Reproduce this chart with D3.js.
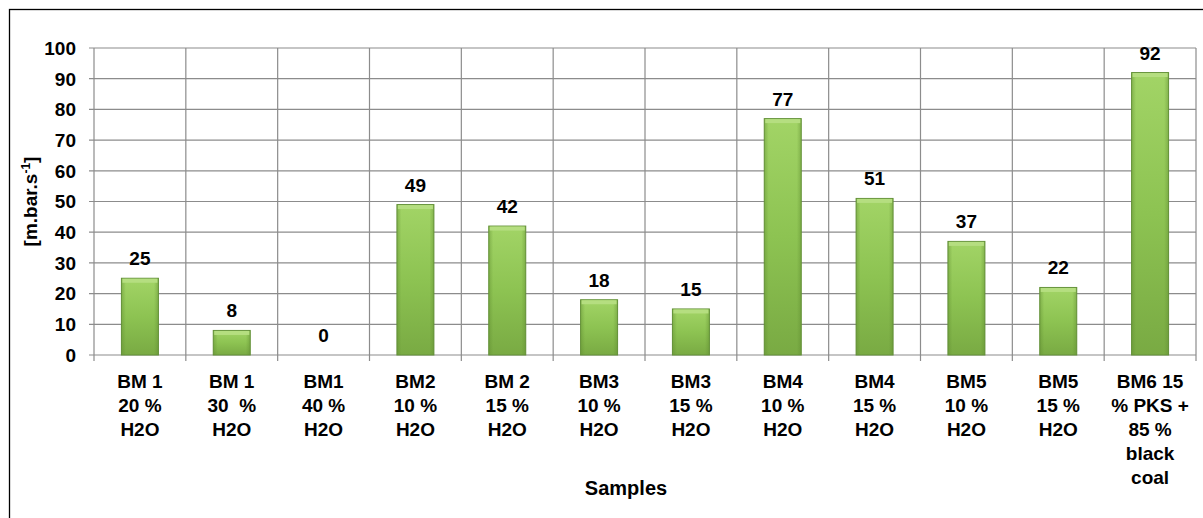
<!DOCTYPE html>
<html>
<head>
<meta charset="utf-8">
<script src="https://cdn.jsdelivr.net/npm/d3@7"></script>
<style>
  body { margin: 0; background: #fff; }
  svg text { font-family: Arial, "Liberation Sans", sans-serif; font-weight: bold; fill: #000; white-space: pre; }
</style>
</head>
<body>
<div id="chart"></div>
<script>
// sample labels, one line per entry
var samples = [
  ["BM 1", "20 %", "H2O"],
  ["BM 1", "30  %", "H2O"],
  ["BM1", "40 %", "H2O"],
  ["BM2", "10 %", "H2O"],
  ["BM 2", "15 %", "H2O"],
  ["BM3", "10 %", "H2O"],
  ["BM3", "15 %", "H2O"],
  ["BM4", "10 %", "H2O"],
  ["BM4", "15 %", "H2O"],
  ["BM5", "10 %", "H2O"],
  ["BM5", "15 %", "H2O"],
  ["BM6 15", "% PKS +", "85 %", "black", "coal"]
]
var values = [25, 8, 0, 49, 42, 18, 15, 77, 51, 37, 22, 92]
var yTicks = [0, 10, 20, 30, 40, 50, 60, 70, 80, 90, 100]

var width = 1203, height = 518
var margin = {left: 94, right: 7, top: 48, bottom: 163}

var svg = d3.select('#chart').append('svg')
    .attr('width', width)
    .attr('height', height)

// outer frame (right / bottom run off the picture)
svg.append('rect')
    .attr('x', 9.5).attr('y', 9.5)
    .attr('width', 1220).attr('height', 530)
    .attr('fill', 'none')
    .attr('stroke', '#000')
    .attr('stroke-width', 1.3)

var defs = svg.append('defs')
var grad = defs.append('linearGradient')
    .attr('id', 'barGrad')
    .attr('x1', 0).attr('y1', 0).attr('x2', 0).attr('y2', 1)
grad.append('stop').attr('offset', '0%').attr('stop-color', '#a2d466')
grad.append('stop').attr('offset', '50%').attr('stop-color', '#8dc352')
grad.append('stop').attr('offset', '100%').attr('stop-color', '#79aa43')

var side = defs.append('linearGradient')
    .attr('id', 'sideGrad')
    .attr('x1', 0).attr('y1', 0).attr('x2', 1).attr('y2', 0)
side.append('stop').attr('offset', '0%').attr('stop-color', '#5f8c30').attr('stop-opacity', 0.45)
side.append('stop').attr('offset', '12%').attr('stop-color', '#5f8c30').attr('stop-opacity', 0)
side.append('stop').attr('offset', '88%').attr('stop-color', '#5f8c30').attr('stop-opacity', 0)
side.append('stop').attr('offset', '100%').attr('stop-color', '#5f8c30').attr('stop-opacity', 0.45)

var x = d3.scaleBand()
    .domain(d3.range(samples.length))
    .range([margin.left, width - margin.right])
    .paddingInner(0).paddingOuter(0)

var y = d3.scaleLinear()
    .domain([0, 100])
    .range([height - margin.bottom, margin.top])

var g = svg.append('g')

// horizontal gridlines
g.selectAll('line.hgrid')
    .data(yTicks)
    .enter().append('line')
    .attr('class', 'hgrid')
    .attr('x1', margin.left - 5)
    .attr('x2', width - margin.right)
    .attr('y1', function(d) { return y(d) })
    .attr('y2', function(d) { return y(d) })
    .attr('stroke', '#8c8c8c')
    .attr('stroke-width', 1.2)

// vertical gridlines at category boundaries
var bounds = d3.range(samples.length + 1).map(function(i) {
  return i < samples.length ? x(i) : x(i - 1) + x.bandwidth()
})
g.selectAll('line.vgrid')
    .data(bounds)
    .enter().append('line')
    .attr('class', 'vgrid')
    .attr('x1', function(d) { return d })
    .attr('x2', function(d) { return d })
    .attr('y1', y(100))
    .attr('y2', y(0) + 6)
    .attr('stroke', '#8c8c8c')
    .attr('stroke-width', 1.2)

// y tick labels
g.selectAll('text.ytick')
    .data(yTicks)
    .enter().append('text')
    .attr('class', 'ytick')
    .attr('x', 76)
    .attr('y', function(d) { return y(d) })
    .attr('dy', '0.36em')
    .attr('text-anchor', 'end')
    .style('font-size', '19px')
    .text(function(d) { return d })

// bars (keep the index with each value)
var barData = values.map(function(v, i) { return {v: v, i: i} })
var barW = 37
var shown = barData.filter(function(d) { return d.v > 0 })
var bars = g.selectAll('g.bar')
    .data(shown)
    .enter().append('g')
    .attr('class', 'bar')

bars.append('rect')
    .attr('x', function(d) { return x(d.i) + x.bandwidth() / 2 - barW / 2 })
    .attr('y', function(d) { return y(d.v) })
    .attr('width', barW)
    .attr('height', function(d) { return y(0) - y(d.v) })
    .attr('fill', 'url(#barGrad)')
    .attr('stroke', '#64913a')
    .attr('stroke-width', 1)

bars.append('rect')
    .attr('x', function(d) { return x(d.i) + x.bandwidth() / 2 - barW / 2 })
    .attr('y', function(d) { return y(d.v) })
    .attr('width', barW)
    .attr('height', function(d) { return y(0) - y(d.v) })
    .attr('fill', 'url(#sideGrad)')

// top bevel highlight
bars.append('rect')
    .attr('x', function(d) { return x(d.i) + x.bandwidth() / 2 - barW / 2 + 1 })
    .attr('y', function(d) { return y(d.v) + 0.5 })
    .attr('width', barW - 2)
    .attr('height', 4)
    .attr('fill', '#b5de80')

// value labels
g.selectAll('text.val')
    .data(barData)
    .enter().append('text')
    .attr('class', 'val')
    .attr('x', function(d) { return x(d.i) + x.bandwidth() / 2 })
    .attr('y', function(d) { return y(d.v) - 13 })
    .attr('text-anchor', 'middle')
    .style('font-size', '19px')
    .text(function(d) { return d.v })

// category labels
var cat = g.selectAll('text.cat')
    .data(samples)
    .enter().append('text')
    .attr('class', 'cat')
    .attr('text-anchor', 'middle')
    .style('font-size', '19px')
cat.selectAll('tspan')
    .data(function(d, i) { return d.map(function(s) { return {s: s, i: i} }) })
    .enter().append('tspan')
    .attr('x', function(d) { return x(d.i) + x.bandwidth() / 2 })
    .attr('y', function(d, j) { return 388 + j * 24 })
    .text(function(d) { return d.s })

// axis titles
svg.append('text')
    .attr('x', 626)
    .attr('y', 495)
    .attr('text-anchor', 'middle')
    .style('font-size', '20px')
    .text('Samples')

var yt = svg.append('text')
    .attr('transform', 'translate(37,' + y(50) + ') rotate(-90)')
    .attr('text-anchor', 'middle')
    .style('font-size', '19px')
yt.append('tspan').text('[m.bar.s')
yt.append('tspan').attr('dy', -7).style('font-size', '12px').text('-1')
yt.append('tspan').attr('dy', 7).text(']')
</script>
</body>
</html>
